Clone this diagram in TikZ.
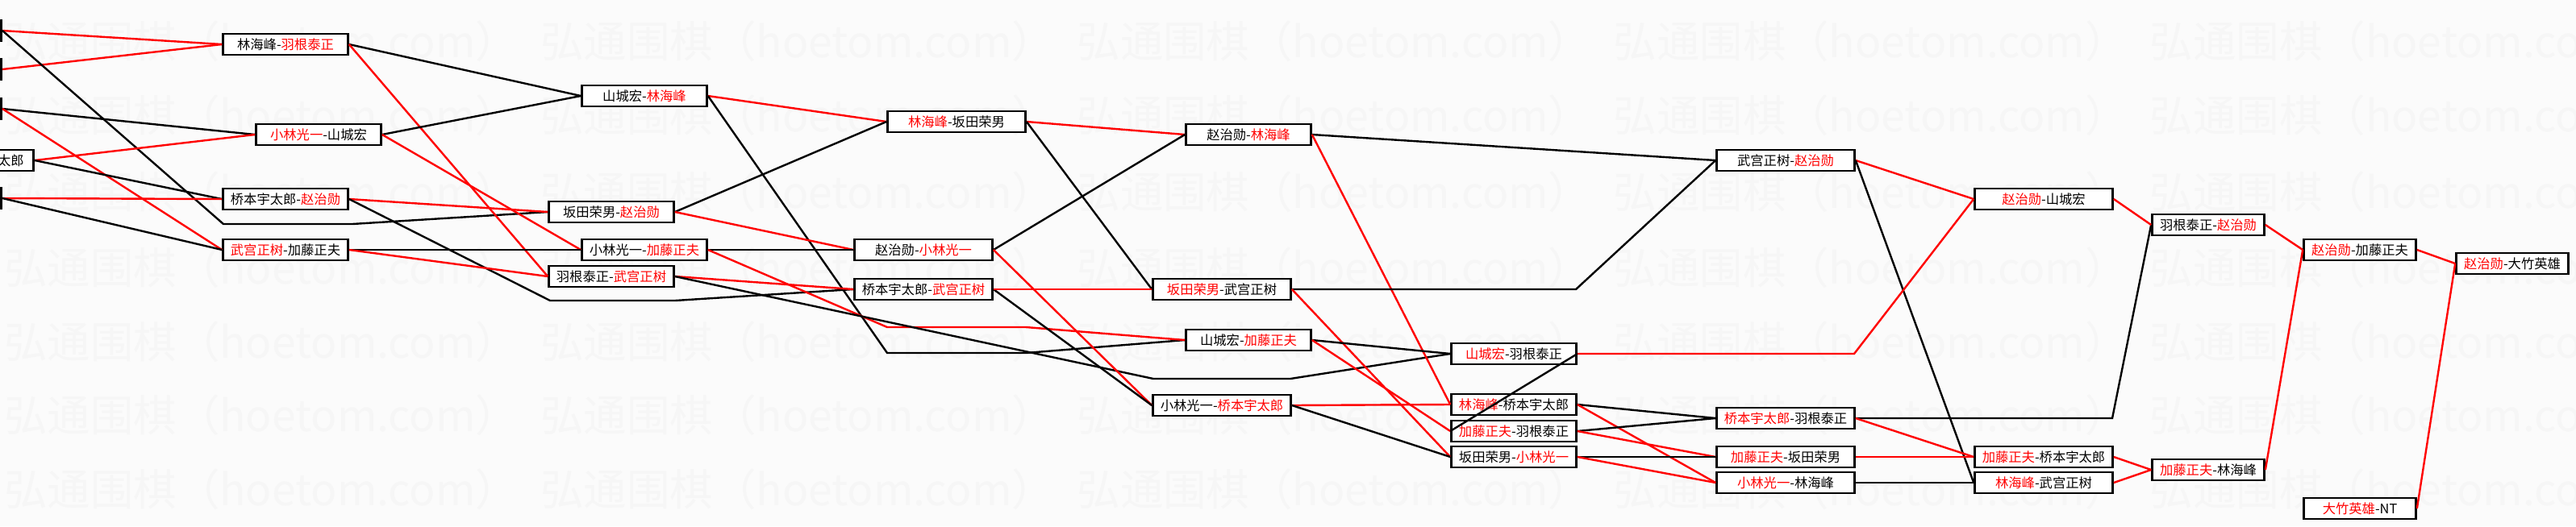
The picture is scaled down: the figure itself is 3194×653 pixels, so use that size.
\documentclass[tikz,border=0pt]{standalone}
\usepackage{fontspec}
\newfontfamily\cjk{Noto Sans CJK SC}
\usepackage{tikz}
\newcommand{\wn}[1]{\textcolor{red}{#1}}
\newcommand{\wmark}{\makebox[16.625cm][l]{弘通围棋（hoetom.com）}}

\begin{document}
\begin{tikzpicture}[x=0.025cm, y=-0.025cm,
  box/.style={draw=black, line width=0.065cm, fill=white, inner sep=0pt,
    minimum width=3.875cm, minimum height=0.65cm,
    font=\cjk\fontsize{11.6}{13}\selectfont},
  wbox/.style={box, minimum width=4.275cm},
  nbox/.style={box, minimum width=3.475cm},
  win/.style={draw=red, line width=0.06cm},
  lose/.style={draw=black, line width=0.06cm},
  wm/.style={anchor=west, inner sep=0pt, text=black!3.5,
    font=\cjk\fontsize{38}{40}\selectfont}]
\useasboundingbox (0,0) rectangle (3194,653);
\clip (0,0) rectangle (3194,653);
\fill[white!98.5!black] (0,0) rectangle (3194,653);

% watermark
\node[wm] (wm1) at (5,51) {\wmark\wmark\wmark\wmark\wmark};
\node[wm] (wm2) at (5,143) {\wmark\wmark\wmark\wmark\wmark};
\node[wm] (wm3) at (5,238) {\wmark\wmark\wmark\wmark\wmark};
\node[wm] (wm4) at (5,332) {\wmark\wmark\wmark\wmark\wmark};
\node[wm] (wm5) at (5,424) {\wmark\wmark\wmark\wmark\wmark};
\node[wm] (wm6) at (5,515) {\wmark\wmark\wmark\wmark\wmark};
\node[wm] (wm7) at (5,607) {\wmark\wmark\wmark\wmark\wmark};

% boxes cut off at the left
\node[box, anchor=east] (l1) at (3,38) {};
\node[box, anchor=east] (l2) at (3,86) {};
\node[box, anchor=east] (l3) at (3,135) {};
\node[box, anchor=east, minimum width=0pt, inner xsep=0.3cm] (l4) at (43,199) {太郎};
\node[box, anchor=east] (l5) at (3,246) {};

% second column
\node[box] (b1) at (354,55) {林海峰-\wn{羽根泰正}};
\node[box] (b2) at (395,167) {\wn{小林光一}-山城宏};
\node[box] (b3) at (354,247) {桥本宇太郎-\wn{赵治勋}};
\node[box] (b4) at (354,310) {\wn{武宫正树}-加藤正夫};

% third column
\node[box] (c1) at (799,119) {山城宏-\wn{林海峰}};
\node[box] (c2) at (758,263) {坂田荣男-\wn{赵治勋}};
\node[box] (c3) at (799,310) {小林光一-\wn{加藤正夫}};
\node[box] (c4) at (758,343) {羽根泰正-\wn{武宫正树}};

% fourth column
\node[wbox] (d1) at (1186,151) {\wn{林海峰}-坂田荣男};
\node[wbox] (d2) at (1145,310) {赵治勋-\wn{小林光一}};
\node[wbox] (d3) at (1145,359) {桥本宇太郎-\wn{武宫正树}};
\node[box] (d4) at (1548,422) {山城宏-\wn{加藤正夫}};
\node[wbox] (d5) at (1515,503) {小林光一-\wn{桥本宇太郎}};
\node[wbox] (d6) at (1515,359) {\wn{坂田荣男}-武宫正树};
\node[box] (d7) at (1548,167) {赵治勋-\wn{林海峰}};

% fifth column
\node[wbox] (e1) at (2214,199) {武宫正树-\wn{赵治勋}};
\node[box] (e2) at (1877,439) {\wn{山城宏}-羽根泰正};
\node[box] (e3) at (1877,502) {\wn{林海峰}-桥本宇太郎};
\node[box] (e4) at (1877,535) {\wn{加藤正夫}-羽根泰正};
\node[box] (e5) at (1877,567) {坂田荣男-\wn{小林光一}};

\node[wbox] (f1) at (2214,519) {\wn{桥本宇太郎}-羽根泰正};
\node[wbox] (f2) at (2214,567) {\wn{加藤正夫}-坂田荣男};
\node[wbox] (f3) at (2214,599) {\wn{小林光一}-林海峰};

\node[wbox] (g1) at (2534,247) {\wn{赵治勋}-山城宏};
\node[wbox] (g2) at (2534,567) {\wn{加藤正夫}-桥本宇太郎};
\node[wbox] (g3) at (2534,599) {\wn{林海峰}-武宫正树};

\node[nbox] (h1) at (2738,279) {羽根泰正-\wn{赵治勋}};
\node[nbox] (h2) at (2738,583) {\wn{加藤正夫}-林海峰};

\node[nbox] (i1) at (2926,310) {\wn{赵治勋}-加藤正夫};
\node[nbox] (i2) at (2926,631) {\wn{大竹英雄}-NT};

\node[nbox] (j1) at (3115,327) {\wn{赵治勋}-大竹英雄};

% first round
\draw[win] (l1.east) -- (b1.west);
\draw[win] (l2.east) -- (b1.west);
\draw[lose] (l1.east) -- (277,278) -- (437,278) -- (c2.west);
\draw[lose] (l3.east) -- (b2.west);
\draw[win] (l3.east) -- (b4.west);
\draw[win] (l4.east) -- (b2.west);
\draw[lose] (l4.east) -- (b3.west);
\draw[win] (l5.east) -- (b3.west);
\draw[lose] (l5.east) -- (b4.west);

% second round
\draw[lose] (b1.east) -- (c1.west);
\draw[win] (b1.east) -- (c4.west);
\draw[lose] (b2.east) -- (c1.west);
\draw[win] (b2.east) -- (c3.west);
\draw[win] (b3.east) -- (c2.west);
\draw[lose] (b3.east) -- (682,373) -- (837,373) -- (d3.west);
\draw[lose] (b4.east) -- (c3.west);
\draw[win] (b4.east) -- (c4.west);

% third round
\draw[win] (c1.east) -- (d1.west);
\draw[lose] (c1.east) -- (1100,438) -- (1272,438) -- (d4.west);
\draw[lose] (c2.east) -- (d1.west);
\draw[win] (c2.east) -- (d2.west);
\draw[lose] (c3.east) -- (d2.west);
\draw[win] (c3.east) -- (1100,406) -- (1272,406) -- (d4.west);
\draw[win] (c4.east) -- (d3.west);
\draw[lose] (c4.east) -- (1430,470) -- (1600,470) -- (e2.west);

% fourth round
\draw[win] (d1.east) -- (d7.west);
\draw[lose] (d1.east) -- (d6.west);
\draw[lose] (d2.east) -- (d7.west);
\draw[win] (d2.east) -- (d5.west);
\draw[lose] (d3.east) -- (d5.west);
\draw[win] (d3.east) -- (d6.west);
\draw[lose] (d7.east) -- (e1.west);
\draw[win] (d7.east) -- (e3.west);
\draw[lose] (d6.east) -- (1954,359) -- (e1.west);
\draw[win] (d6.east) -- (e5.west);
\draw[lose] (d4.east) -- (e2.west);
\draw[win] (d4.east) -- (e4.west);
\draw[win] (d5.east) -- (e3.west);
\draw[lose] (d5.east) -- (e5.west);

% fifth round
\draw[win] (e1.east) -- (g1.west);
\draw[lose] (e1.east) -- (g3.west);
\draw[win] (e2.east) -- (2299,439) -- (g1.west);
\draw[lose] (e2.east) -- (e4.west);
\draw[lose] (e3.east) -- (f1.west);
\draw[win] (e3.east) -- (f3.west);
\draw[lose] (e4.east) -- (f1.west);
\draw[win] (e4.east) -- (f2.west);
\draw[lose] (e5.east) -- (f2.west);
\draw[win] (e5.east) -- (f3.west);

% final rounds
\draw[lose] (f1.east) -- (2619,519) -- (h1.west);
\draw[win] (f1.east) -- (g2.west);
\draw[win] (f2.east) -- (g2.west);
\draw[lose] (f3.east) -- (g3.west);
\draw[win] (g1.east) -- (h1.west);
\draw[win] (g2.east) -- (h2.west);
\draw[win] (g3.east) -- (h2.west);
\draw[win] (h1.east) -- (i1.west);
\draw[win] (h2.east) -- (i1.west);
\draw[win] (i1.east) -- (j1.west);
\draw[win] (i2.east) -- (j1.west);
\end{tikzpicture}
\end{document}
